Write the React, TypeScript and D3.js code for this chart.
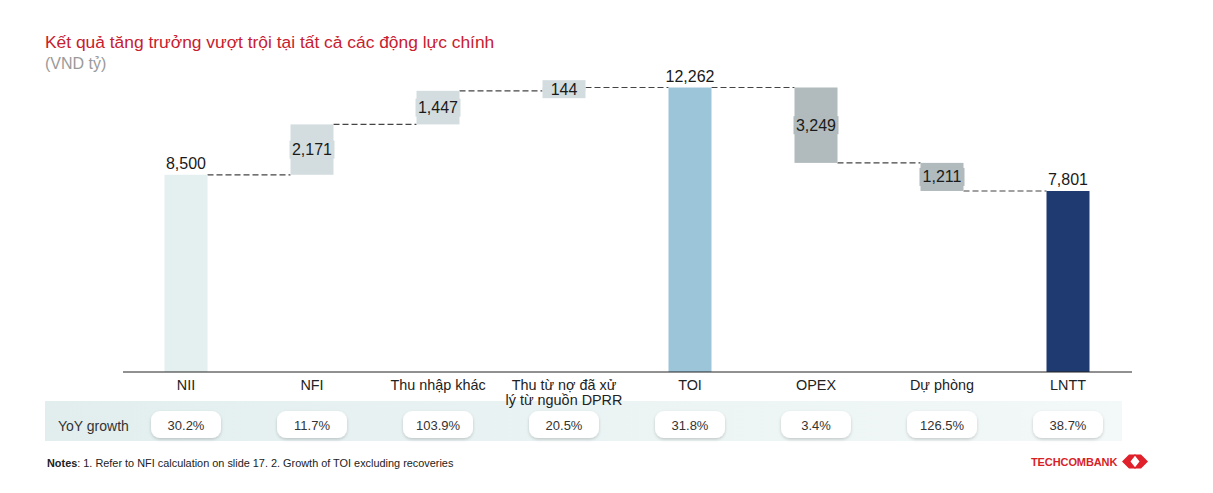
import * as d3 from 'd3';

// Waterfall data (VND tỷ)
const categories = ['NII', 'NFI', 'Thu nhập khác', 'Thu từ nợ đã xử lý từ nguồn DPRR', 'TOI', 'OPEX', 'Dự phòng', 'LNTT'];
const categoryLines = [['NII'], ['NFI'], ['Thu nhập khác'], ['Thu từ nợ đã xử', 'lý từ nguồn DPRR'], ['TOI'], ['OPEX'], ['Dự phòng'], ['LNTT']];
const values = [8500, 2171, 1447, 144, 12262, -3249, -1211, 7801];
const isTotal = [true, false, false, false, true, false, false, true];
const valueLabels = ['8,500', '2,171', '1,447', '144', '12,262', '3,249', '1,211', '7,801'];
const yoyGrowth = ['30.2%', '11.7%', '103.9%', '20.5%', '31.8%', '3.4%', '126.5%', '38.7%'];
const barColors = ['#e4f0f0', '#d3dde0', '#d3dde0', '#d3dde0', '#9cc5d9', '#b1babc', '#b1babc', '#1f3a70'];

const W = 1213;
const H = 493;
const FONT = '"Liberation Sans", Arial, Helvetica, sans-serif';

export default function App() {
    const baseline = 372;
    const barW = 43;

    const x = d3.scalePoint<string>()
        .domain(categories)
        .range([123, 1131])
        .padding(0.5);

    const y = d3.scaleLinear()
        .domain([0, 12262])
        .range([baseline, 87.5]);

    // compute bar extents
    let running = 0;
    const bars = values.map((v, i) => {
        let y0: number, y1: number;
        if (isTotal[i]) {
            y0 = 0;
            y1 = v;
            running = v;
        } else {
            y0 = running;
            y1 = running + v;
            running = y1;
        }
        return { cat: categories[i], lo: Math.min(y0, y1), hi: Math.max(y0, y1), end: y1, i };
    });

    return (
        <svg width={W} height={H} style={{ position: 'absolute', left: 0, top: 0, background: '#fff' }} fontFamily={FONT}>
            <defs>
                <linearGradient id="band" x1="0%" x2="100%" y1="0%" y2="0%">
                    <stop offset="0%" stopColor="#e2eeee" />
                    <stop offset="100%" stopColor="#f3f8f8" />
                </linearGradient>
                <filter id="pillShadow" x="-20%" y="-30%" width="140%" height="170%">
                    <feDropShadow dx="0" dy="1.5" stdDeviation="1.5" floodColor="#000" floodOpacity="0.18" />
                </filter>
            </defs>

            {/* title */}
            <text x={45} y={48} fontSize={17.4} fill="#c8202f">Kết quả tăng trưởng vượt trội tại tất cả các động lực chính</text>
            <text x={45} y={69} fontSize={16} fill="#9a9a9a">(VND tỷ)</text>

            {/* YoY growth band (behind labels) */}
            <rect x={45} y={401} width={1077} height={40} fill="url(#band)" />

            {/* connectors */}
            {bars.slice(0, -1).map((b, i) => {
                const level = b.end;
                return (
                    <line
                        key={`c${i}`}
                        x1={(x(b.cat) as number) + barW / 2}
                        x2={(x(categories[i + 1]) as number) - barW / 2}
                        y1={y(level)}
                        y2={y(level)}
                        stroke="#444"
                        strokeWidth={1.2}
                        strokeDasharray="6,3"
                    />
                );
            })}

            {/* bars */}
            {bars.map(b => (
                <rect
                    key={`b${b.i}`}
                    x={(x(b.cat) as number) - barW / 2}
                    y={y(b.hi)}
                    width={barW}
                    height={y(b.lo) - y(b.hi)}
                    fill={barColors[b.i]}
                />
            ))}

            {/* value labels */}
            {bars.map(b => {
                const cx = x(b.cat) as number;
                if (isTotal[b.i]) {
                    return (
                        <text key={`v${b.i}`} x={cx} y={y(b.hi) - 6} fontSize={16} fill="#1a1a1a" textAnchor="middle">
                            {valueLabels[b.i]}
                        </text>
                    );
                }
                const cy = (y(b.hi) + y(b.lo)) / 2;
                const boxW = Math.max(barW, valueLabels[b.i].length * 8.6 + 2);
                return (
                    <g key={`v${b.i}`}>
                        <rect x={cx - boxW / 2} y={cy - 9} width={boxW} height={18} fill={barColors[b.i]} />
                        <text x={cx} y={cy + 5.5} fontSize={16} fill="#1a1a1a" textAnchor="middle">
                            {valueLabels[b.i]}
                        </text>
                    </g>
                );
            })}

            {/* axis line */}
            <line x1={123} x2={1132} y1={baseline} y2={baseline} stroke="#222" strokeWidth={1} />

            {/* category labels */}
            {categoryLines.map((lines, i) => (
                <text key={`l${i}`} x={x(categories[i]) as number} y={390} fontSize={14.4} fill="#222" textAnchor="middle">
                    {lines.map((ln, j) => (
                        <tspan key={j} x={x(categories[i]) as number} dy={j === 0 ? 0 : 14.5}>{ln}</tspan>
                    ))}
                </text>
            ))}

            {/* YoY growth pills */}
            <text x={58} y={431} fontSize={14} fill="#333">YoY growth</text>
            {yoyGrowth.map((g, i) => {
                const cx = x(categories[i]) as number;
                return (
                    <g key={`p${i}`}>
                        <rect x={cx - 35} y={411} width={70} height={27} rx={9} fill="#fff" filter="url(#pillShadow)" />
                        <text x={cx} y={429.5} fontSize={13} fill="#333" textAnchor="middle">{g}</text>
                    </g>
                );
            })}

            {/* notes */}
            <text x={47} y={467} fontSize={10.9} fill="#222">
                <tspan fontWeight="bold">Notes</tspan>: 1. Refer to NFI calculation on slide 17. 2. Growth of TOI excluding recoveries
            </text>

            {/* logo */}
            <text x={1031} y={466} fontSize={11} fontWeight="bold" fill="#d71f27" letterSpacing="-0.1">TECHCOMBANK</text>
            <path d="M1122,461.5 L1129,454.5 L1136,454.5 L1130.5,461.5 L1136,468.5 L1129,468.5 Z" fill="#e0202a" />
            <path d="M1148,461.5 L1141,454.5 L1134,454.5 L1139.5,461.5 L1134,468.5 L1141,468.5 Z" fill="#e0202a" />
        </svg>
    );
}
